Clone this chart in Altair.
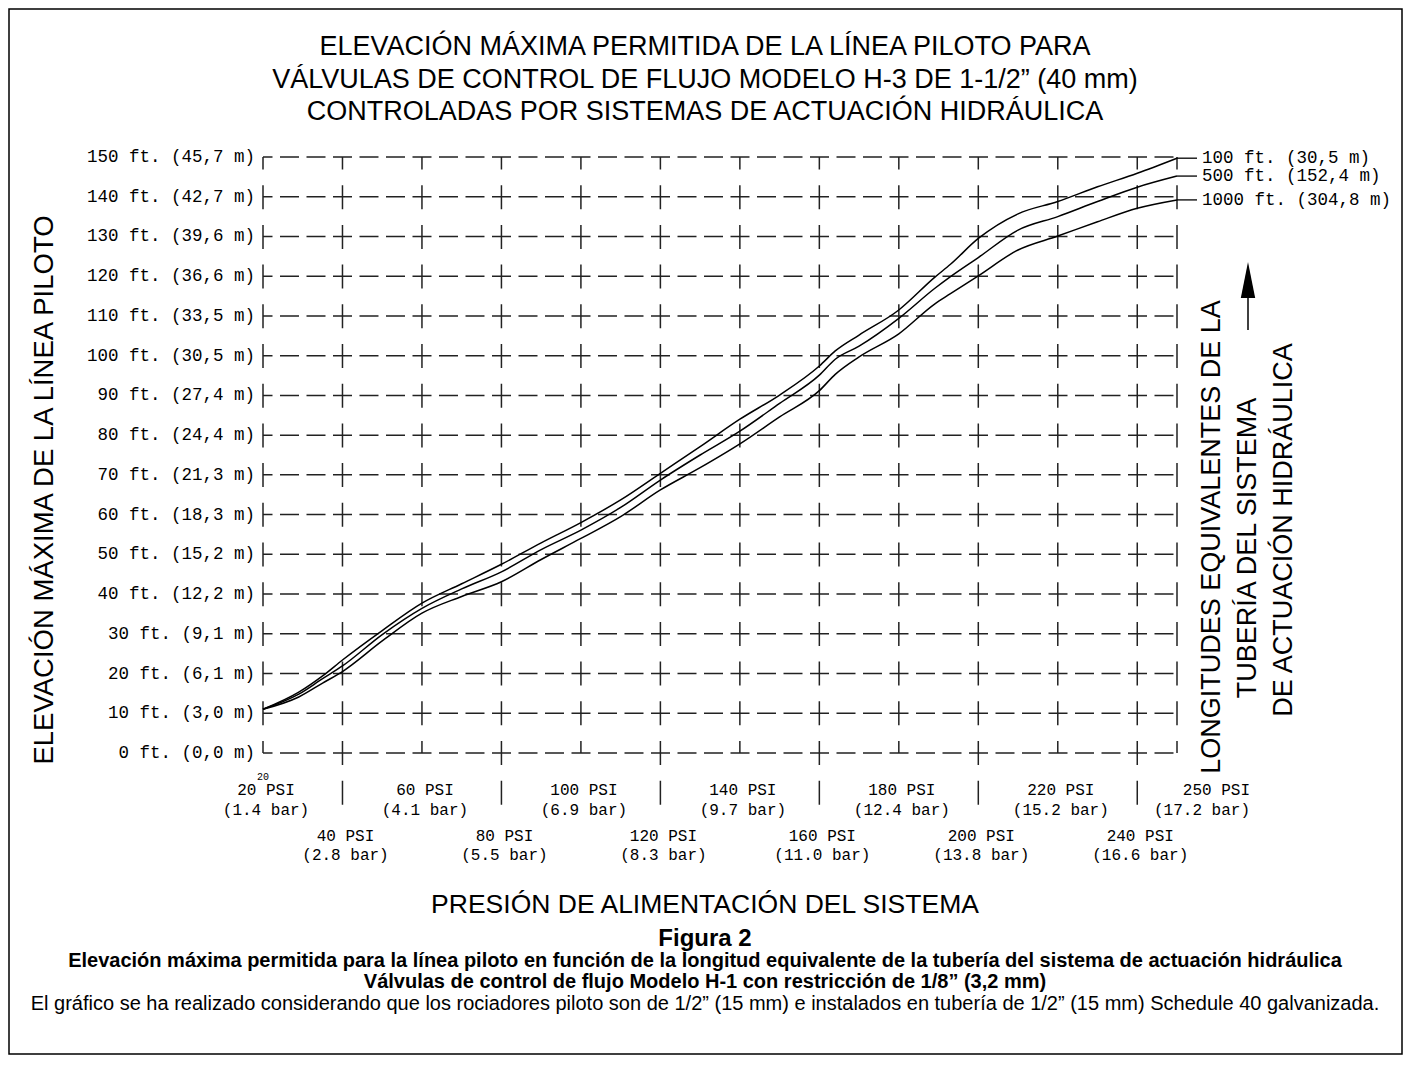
import altair as alt
import pandas as pd

# ---------------- data ----------------
TITLE_LINES = [
    "ELEVACIÓN MÁXIMA PERMITIDA DE LA LÍNEA PILOTO PARA",
    "VÁLVULAS DE CONTROL DE FLUJO MODELO H-3 DE 1-1/2” (40 mm)",
    "CONTROLADAS POR SISTEMAS DE ACTUACIÓN HIDRÁULICA",
]
Y_TITLE = "ELEVACIÓN MÁXIMA DE LA LÍNEA PILOTO"
X_TITLE = "PRESIÓN DE ALIMENTACIÓN DEL SISTEMA"
RIGHT_TITLE = ["LONGITUDES EQUIVALENTES DE LA", "TUBERÍA DEL SISTEMA", "DE ACTUACIÓN HIDRÁULICA"]
CAPTION = [
    "Figura 2",
    "Elevación máxima permitida para la línea piloto en función de la longitud equivalente de la tubería del sistema de actuación hidráulica",
    "Válvulas de control de flujo Modelo H-1 con restricción de 1/8” (3,2 mm)",
    "El gráfico se ha realizado considerando que los rociadores piloto son de 1/2” (15 mm) e instalados en tubería de 1/2” (15 mm) Schedule 40 galvanizada.",
]

ft_ticks = [0, 10, 20, 30, 40, 50, 60, 70, 80, 90, 100, 110, 120, 130, 140, 150]
m_labels = ["0,0", "3,0", "6,1", "9,1", "12,2", "15,2", "18,3", "21,3", "24,4",
            "27,4", "30,5", "33,5", "36,6", "39,6", "42,7", "45,7"]

psi_grid = [20, 40, 60, 80, 100, 120, 140, 160, 180, 200, 220, 240, 250]
psi_upper = [20, 60, 100, 140, 180, 220]
bar_upper = ["1.4", "4.1", "6.9", "9.7", "12.4", "15.2"]
psi_last = 250
bar_last = "17.2"
psi_lower = [40, 80, 120, 160, 200, 240]
bar_lower = ["2.8", "5.5", "8.3", "11.0", "13.8", "16.6"]

psi_pts = [20, 29, 35, 40, 50, 60, 70, 80, 90, 100, 110, 120, 130, 140, 150,
           160, 164, 170, 180, 189, 193, 200, 210, 220, 230, 240, 250]
ft_100 = [11, 15.3, 19.4, 23.4, 30.8, 37.7, 42.6, 47.5, 52.9, 58.0, 63.7, 70.4, 77.1, 84.0, 90.1,
          97.4, 101.2, 105.2, 111.5, 119.7, 123.0, 129.5, 135.7, 138.8, 142.5, 145.9, 149.7]
ft_500 = [11, 14.8, 18.7, 21.9, 29.8, 36.4, 41.3, 45.6, 51.2, 56.1, 61.8, 68.7, 75.0, 81.0, 88.0,
          95.1, 99.1, 102.4, 109.4, 116.9, 119.9, 124.7, 131.6, 135.0, 138.8, 142.4, 145.2]
ft_1000 = [11, 14.1, 17.6, 20.5, 28.2, 35.2, 39.4, 43.1, 48.7, 54.0, 59.5, 66.2, 71.8, 77.8, 84.6,
           91.2, 95.3, 99.7, 105.5, 113.0, 115.6, 120.1, 126.6, 130.1, 133.7, 137.1, 139.2]
series_names = ["100 ft. (30,5 m)", "500 ft. (152,4 m)", "1000 ft. (304,8 m)"]

# ---------------- tables ----------------
curves = pd.concat([
    pd.DataFrame({"psi": psi_pts, "ft": vals, "series": name})
    for name, vals in zip(series_names, [ft_100, ft_500, ft_1000])
])
ends = pd.DataFrame({"psi": [psi_pts[-1]] * 3,
                     "ft": [ft_100[-1], ft_500[-1], ft_1000[-1]],
                     "label": series_names})
ylab = pd.DataFrame({"psi": [psi_grid[0]] * len(ft_ticks), "ft": ft_ticks,
                     "label": [f"{v} ft. ({m} m)" for v, m in zip(ft_ticks, m_labels)]})
upper = pd.DataFrame({"psi": psi_upper,
                      "t1": [f"{p} PSI" for p in psi_upper],
                      "t2": [f"({b} bar)" for b in bar_upper]})
last = pd.DataFrame({"psi": [psi_last], "t1": [f"{psi_last} PSI"], "t2": [f"({bar_last} bar)"]})
lower = pd.DataFrame({"psi": psi_lower,
                      "t1": [f"{p} PSI" for p in psi_lower],
                      "t2": [f"({b} bar)" for b in bar_lower]})
dummy = pd.DataFrame({"k": [0]})

W, H = 914, 596
SANS = "Liberation Sans"
MONO = "Liberation Mono"
GRID = "#222222"

xscale = alt.Scale(domain=[20, 250], nice=False, zero=False)
yscale = alt.Scale(domain=[0, 150], nice=False, zero=False)
X = lambda f="psi:Q": alt.X(f, scale=xscale, axis=None)
Y = lambda f="ft:Q": alt.Y(f, scale=yscale, axis=None)

hgrid = alt.Chart(pd.DataFrame({"ft": ft_ticks})).mark_rule(
    color=GRID, strokeWidth=1.5, strokeDash=[19, 7.5], strokeDashOffset=9.5
).encode(
    y=Y(),
    x=alt.XDatum(20, scale=xscale, axis=None),
    x2=alt.X2Datum(250),
)

vgrid = alt.Chart(pd.DataFrame({"psi": psi_grid})).mark_rule(
    color=GRID, strokeWidth=1.5, strokeDash=[24, 15.7], strokeDashOffset=12
).encode(
    x=X(),
    y=alt.YDatum(0, scale=yscale, axis=None),
    y2=alt.Y2Datum(150),
)

vext = alt.Chart(pd.DataFrame({"psi": psi_lower})).mark_rule(
    color=GRID, strokeWidth=1.5, strokeDash=[24, 15.7], strokeDashOffset=12
).encode(x=X(), y=alt.value(H), y2=alt.value(H + 66))

lines = alt.Chart(curves).mark_line(color="black", strokeWidth=1.5, interpolate="monotone").encode(
    x=X(), y=Y(), detail="series:N")

ylabels = alt.Chart(ylab).mark_text(
    align="right", baseline="middle", dx=-8, font=MONO, fontSize=17.5, color="black"
).encode(x=X(), y=Y(), text="label:N")

leaders = alt.Chart(ends).mark_rule(color="black", strokeWidth=1.3).encode(
    x=X(), x2=alt.value(W + 20), y=Y())
end_labels = alt.Chart(ends).mark_text(
    align="left", baseline="middle", dx=25, font=MONO, fontSize=17.5, color="black"
).encode(x=X(), y=Y(), text="label:N")


def xlabels(df, y1, y2, align="center", dx=3):
    base = alt.Chart(df)
    out = []
    for yy, field in ((y1, "t1:N"), (y2, "t2:N")):
        out.append(base.mark_text(align=align, baseline="middle", dx=dx, font=MONO, fontSize=16,
                                  color="black").encode(x=X(), y=alt.value(yy), text=field))
    return out


def note(text, x, y, size, font=SANS, weight="normal", angle=0, align="center"):
    return alt.Chart(dummy).mark_text(
        text=text, fontSize=size, font=font, fontWeight=weight, angle=angle,
        align=align, baseline="middle", color="black"
    ).encode(x=alt.value(x), y=alt.value(y))


small20 = alt.Chart(pd.DataFrame({"psi": [20], "t": ["20"]})).mark_text(
    font=MONO, fontSize=10, baseline="middle", color="black"
).encode(x=X(), y=alt.value(H + 24), text="t:N")

arrow_shaft = alt.Chart(dummy).mark_rule(color="black", strokeWidth=1.5).encode(
    x=alt.value(985), y=alt.value(140), y2=alt.value(173))
arrow_head = alt.Chart(dummy).mark_point(
    shape="M-0.4,1L0,-1L0.4,1Z", size=1296, filled=True, color="black", opacity=1
).encode(x=alt.value(985), y=alt.value(123))

frame = alt.Chart(dummy).mark_rect(fillOpacity=0, stroke="black", strokeWidth=1.5).encode(
    x=alt.value(-254), x2=alt.value(1139), y=alt.value(-148), y2=alt.value(897))

layers = [hgrid, vgrid, vext, lines, ylabels, leaders, end_labels, small20]
layers += xlabels(upper, 633, 653)
layers += xlabels(lower, 679, 698)
layers += xlabels(last, 633, 653, align="right", dx=73)
layers += [
    note(TITLE_LINES[0], 442, -110, 27),
    note(TITLE_LINES[1], 442, -77, 27),
    note(TITLE_LINES[2], 442, -45, 27),
    note(Y_TITLE, -218, 333, 27.5, angle=270),
    note(RIGHT_TITLE[0], 949, 380, 27, angle=270),
    note(RIGHT_TITLE[1], 985, 391, 27, angle=270),
    note(RIGHT_TITLE[2], 1021, 373, 27, angle=270),
    note(X_TITLE, 442, 748, 26.5),
    note(CAPTION[0], 442, 782, 24, weight="bold"),
    note(CAPTION[1], 442, 804, 20, weight="bold"),
    note(CAPTION[2], 442, 825, 20, weight="bold"),
    note(CAPTION[3], 442, 847, 20),
    arrow_shaft, arrow_head, frame,
]

chart = alt.layer(*layers).properties(
    width=W, height=H,
    autosize=alt.AutoSizeParams(type="none"),
    padding={"left": 255, "top": 149, "right": 226, "bottom": 303},
    background="white",
).configure_view(strokeWidth=0)

chart.save("out.html", embed_options={"renderer": "svg", "actions": False})
